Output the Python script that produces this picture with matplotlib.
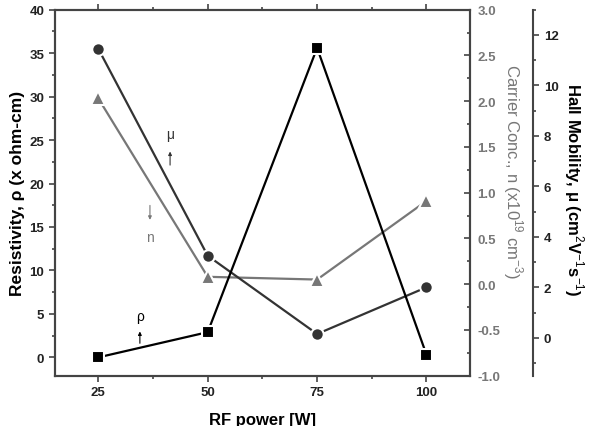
import matplotlib.pyplot as plt
from matplotlib.ticker import MultipleLocator

plt.rcParams['font.family'] = ['Liberation Sans', 'DejaVu Sans']
plt.rcParams['axes.unicode_minus'] = False
plt.rcParams['mathtext.fontset'] = 'custom'
plt.rcParams['mathtext.rm'] = 'Liberation Sans'
plt.rcParams['mathtext.bf'] = 'Liberation Sans:bold'

# data
power = [25, 50, 75, 100]
resistivity = [0.0, 2.9, 35.6, 0.3]      # x ohm-cm
carrier = [2.03, 0.08, 0.05, 0.91]       # x1e19 cm^-3
mobility = [11.45, 3.25, 0.15, 2.0]      # cm2/Vs

frame = '#444444'
gray = '#777777'
dark = '#333333'
tsize = 9.5

fig = plt.figure(figsize=(5.93, 4.27), dpi=100)
ax = fig.add_axes([0.092, 0.118, 0.701, 0.857])
ax2 = ax.twinx()
ax3 = ax.twinx()

# carrier conc (gray triangles)
ax2.plot(power, carrier, '-', color=gray, lw=1.6, marker='^', ms=10,
         mfc=gray, mec='white', mew=1.5, zorder=2)
# mobility (dark circles)
ax3.plot(power, mobility, '-', color=dark, lw=1.6, marker='o', ms=9,
         mfc=dark, mec='white', mew=1.5, zorder=3)
# resistivity (black squares) on top
ax.set_zorder(3)
ax.patch.set_visible(False)
ax.plot(power, resistivity, '-', color='black', lw=1.6, marker='s', ms=8.5,
        mfc='black', mec='white', mew=1.5, zorder=4)

ax.set_xlim(15, 110)
ax.set_ylim(-2.1, 40)
ax2.set_ylim(-1, 3)
ax3.set_ylim(-1.5, 13)

ax.set_xticks(power)
ax.xaxis.set_minor_locator(MultipleLocator(12.5))
ax.yaxis.set_major_locator(MultipleLocator(5))
ax.yaxis.set_minor_locator(MultipleLocator(2.5))
ax2.yaxis.set_major_locator(MultipleLocator(0.5))
ax2.yaxis.set_minor_locator(MultipleLocator(0.25))
ax3.yaxis.set_major_locator(MultipleLocator(2))
ax3.yaxis.set_minor_locator(MultipleLocator(1))

for a in (ax, ax2, ax3):
    for s in a.spines.values():
        s.set_color(frame)
        s.set_linewidth(1.5)

ax.tick_params(axis='x', which='both', direction='out', top=True, color=frame,
               labelsize=tsize, width=1.2)
ax.tick_params(axis='x', which='major', length=4)
ax.tick_params(axis='x', which='minor', length=2.5)
ax.tick_params(axis='y', which='both', direction='out', color=frame,
               labelsize=tsize, width=1.2)
ax.tick_params(axis='y', which='major', length=4)
ax.tick_params(axis='y', which='minor', length=2.5)
for lbl in ax.get_xticklabels() + ax.get_yticklabels():
    lbl.set_fontweight('bold')
    lbl.set_color('#222222')

ax2.tick_params(axis='y', which='both', direction='in', color=frame,
                labelsize=tsize, labelcolor=gray, width=1.2, pad=5)
ax2.tick_params(axis='y', which='major', length=4)
ax2.tick_params(axis='y', which='minor', length=2.5)
for lbl in ax2.get_yticklabels():
    lbl.set_fontweight('bold')

ax3.spines['right'].set_position(('axes', 1.152))
for side in ('left', 'top', 'bottom'):
    ax3.spines[side].set_visible(False)
ax3.tick_params(axis='y', which='both', direction='out', color=frame,
                labelsize=tsize, width=1.2)
ax3.tick_params(axis='y', which='major', length=4)
ax3.tick_params(axis='y', which='minor', length=2.5)
for lbl in ax3.get_yticklabels():
    lbl.set_fontweight('bold')
    lbl.set_color('#222222')

ax.set_xlabel('RF power [W]', fontsize=12, fontweight='bold', labelpad=10)
ax.set_ylabel('Resistivity, ρ (x ohm-cm)', fontsize=12.5, fontweight='bold',
              labelpad=3)
ax2.set_ylabel('Carrier Conc., n (x10$^{19}$ cm$^{-3}$)', fontsize=12,
               color=gray, rotation=-90, va='center')
ax2.yaxis.set_label_coords(1.103, 0.56)
ax3.set_ylabel('Hall Mobility, μ (cm$^{2}$V$^{-1}$s$^{-1}$)', fontsize=12,
               fontweight='bold', rotation=-90, va='center')
ax3.yaxis.set_label_coords(1.248, 0.51)

# small labels with arrows
ax.text(41.4, 25.7, 'μ', fontsize=10, ha='center', va='center', color=dark)
ax.annotate('', xy=(41.4, 24.0), xytext=(41.4, 21.8),
            arrowprops=dict(arrowstyle='-|>', color=dark, lw=0.8,
                            mutation_scale=5))
ax.text(36.8, 13.8, 'n', fontsize=10, ha='center', va='center', color=gray)
ax.annotate('', xy=(36.8, 15.5), xytext=(36.8, 17.8),
            arrowprops=dict(arrowstyle='-|>', color=gray, lw=0.8,
                            mutation_scale=5))
ax.text(34.5, 4.8, 'ρ', fontsize=10, ha='center', va='center', color='black')
ax.annotate('', xy=(34.5, 3.3), xytext=(34.5, 1.3),
            arrowprops=dict(arrowstyle='-|>', color='black', lw=0.8,
                            mutation_scale=5))

fig.savefig('out.png', dpi=100)
